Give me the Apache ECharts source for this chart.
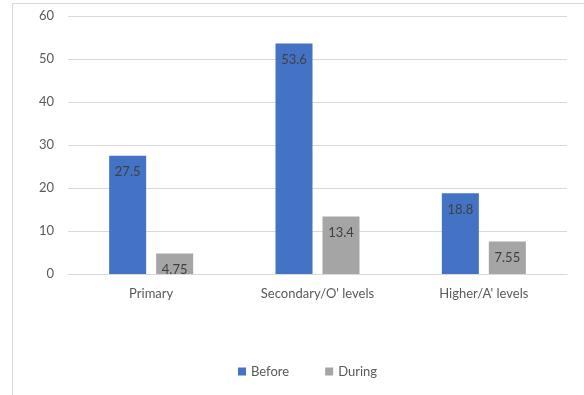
<!DOCTYPE html>
<html>
<head>
<meta charset="utf-8">
<script src="https://cdn.jsdelivr.net/npm/echarts@6/dist/echarts.min.js"></script>
<style>
  html, body { margin: 0; padding: 0; background: #fff; }
  #chart { width: 584px; height: 395px; }
</style>
</head>
<body>
<div id="chart"></div>
<script>
// Education levels and the share reported before and during the period
const categories = ["Primary", "Secondary/O' levels", "Higher/A' levels"];
const beforeValues = [27.5, 53.6, 18.8];
const duringValues = [4.75, 13.4, 7.55];
const yTicks = [0, 10, 20, 30, 40, 50, 60];

const FONT = 'Lato, "Open Sans", sans-serif';
const chart = echarts.init(document.getElementById('chart'), null, { renderer: 'canvas' });

const labelStyle = {
  show: true,
  position: 'insideTop',
  distance: 10,
  color: '#404040',
  fontFamily: FONT,
  fontSize: 13
};

chart.setOption({
  animation: false,
  backgroundColor: '#ffffff',
  textStyle: { fontFamily: FONT },
  graphic: [
    { type: 'line', shape: { x1: 12.5, y1: 3.5, x2: 12.5, y2: 395 }, style: { stroke: '#d9d9d9', lineWidth: 1 } },
    { type: 'line', shape: { x1: 12.5, y1: 3.5, x2: 584, y2: 3.5 }, style: { stroke: '#d9d9d9', lineWidth: 1 } }
  ],
  grid: { left: 68, right: 17, top: 16, bottom: 121, containLabel: false },
  legend: {
    data: ['Before', 'During'],
    left: 233,
    top: 360,
    icon: 'rect',
    itemWidth: 8,
    itemHeight: 8,
    itemGap: 36,
    textStyle: { color: '#595959', fontSize: 13, fontFamily: FONT }
  },
  xAxis: {
    type: 'category',
    data: categories,
    axisLine: { show: true, lineStyle: { color: '#d9d9d9', width: 1 } },
    axisTick: { show: false },
    axisLabel: { color: '#595959', fontSize: 13, fontFamily: FONT, margin: 13 }
  },
  yAxis: {
    type: 'value',
    min: yTicks[0],
    max: yTicks[yTicks.length - 1],
    interval: 10,
    axisLine: { show: false },
    axisTick: { show: false },
    axisLabel: { color: '#595959', fontSize: 13, fontFamily: FONT, margin: 14 },
    splitLine: { lineStyle: { color: '#d9d9d9', width: 1 } }
  },
  series: [
    {
      name: 'Before',
      type: 'bar',
      data: beforeValues,
      barWidth: 37,
      barGap: '27%',
      itemStyle: { color: '#4472c4' },
      label: labelStyle
    },
    {
      name: 'During',
      type: 'bar',
      data: duringValues,
      barWidth: 37,
      itemStyle: { color: '#a5a5a5' },
      label: labelStyle
    }
  ]
});
</script>
</body>
</html>
